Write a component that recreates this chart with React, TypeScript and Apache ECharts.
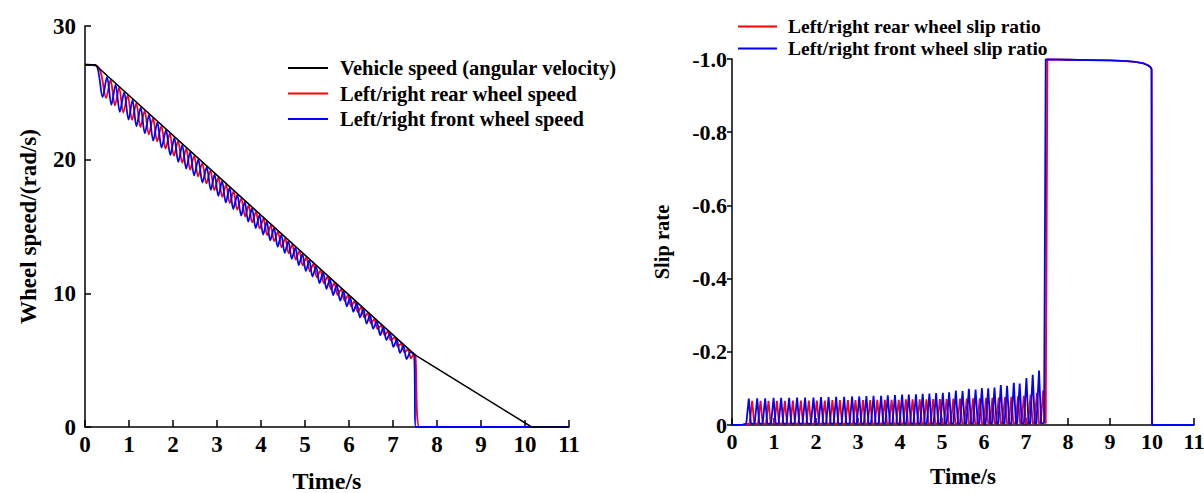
import React, { useEffect, useRef } from "react";
import * as echarts from "echarts";

// ---- Left chart: wheel speeds (rad/s) ----
const vehicleTime = [0, 0.23, 7.5, 10.15, 11];
const vehicleSpeed = [27.1, 27.1, 5.4, 0, 0];

const frontTimes = [0.40, 0.60, 0.79, 0.99, 1.17, 1.36, 1.55, 1.74, 1.94, 2.12, 2.30, 2.48, 2.67, 2.86, 3.03, 3.20, 3.37, 3.55, 3.71, 3.88, 4.05, 4.21, 4.38, 4.54, 4.70, 4.86, 5.02, 5.17, 5.33, 5.49, 5.64, 5.80, 5.95, 6.10, 6.25, 6.40, 6.55, 6.71, 6.85, 7.01, 7.16, 7.31];
const frontSpeedDip = [24.68, 24.10, 23.57, 22.99, 22.50, 21.97, 21.42, 20.90, 20.35, 19.83, 19.33, 18.82, 18.29, 17.75, 17.29, 16.80, 16.31, 15.81, 15.37, 14.88, 14.40, 13.96, 13.48, 13.03, 12.58, 12.12, 11.67, 11.26, 10.76, 10.34, 9.87, 9.46, 9.02, 8.62, 8.20, 7.74, 7.36, 6.87, 6.51, 5.99, 5.54, 5.08];
const frontSpeedTop = [26.20, 25.62, 25.03, 24.47, 23.91, 23.35, 22.78, 22.20, 21.63, 21.09, 20.56, 20.00, 19.44, 18.90, 18.39, 17.88, 17.36, 16.85, 16.36, 15.85, 15.36, 14.87, 14.38, 13.90, 13.42, 12.94, 12.48, 12.02, 11.54, 11.08, 10.62, 10.15, 9.70, 9.26, 8.81, 8.36, 7.90, 7.45, 7.00, 6.54, 6.09];
const frontSpeedHead = [[0, 27.1], [0.25, 27.05]];
const frontSpeedTail = [[7.40, 5.60], [7.48, 5.42], [7.52, 0], [11, 0]];

const rearTimes = [0.48, 0.68, 0.87, 1.07, 1.26, 1.45, 1.64, 1.83, 2.02, 2.21, 2.39, 2.57, 2.76, 2.94, 3.12, 3.29, 3.46, 3.64, 3.80, 3.97, 4.14, 4.30, 4.47, 4.63, 4.79, 4.95, 5.11, 5.27, 5.43, 5.59, 5.74, 5.90, 6.05, 6.20, 6.35, 6.50, 6.65, 6.81, 6.95, 7.11, 7.26, 7.41];
const rearSpeedDip = [24.62, 24.06, 23.53, 22.98, 22.44, 21.89, 21.37, 20.83, 20.30, 19.77, 19.25, 18.75, 18.22, 17.72, 17.22, 16.75, 16.26, 15.75, 15.31, 14.84, 14.35, 13.90, 13.44, 12.99, 12.53, 12.09, 11.65, 11.19, 10.75, 10.30, 9.88, 9.44, 9.01, 8.59, 8.18, 7.75, 7.33, 6.88, 6.48, 6.02, 5.58, 5.13];
const rearSpeedTop = [25.96, 25.38, 24.79, 24.21, 23.65, 23.08, 22.51, 21.94, 21.38, 20.82, 20.29, 19.73, 19.18, 18.65, 18.12, 17.62, 17.09, 16.59, 16.09, 15.59, 15.09, 14.60, 14.11, 13.63, 13.15, 12.68, 12.20, 11.72, 11.24, 10.78, 10.32, 9.85, 9.41, 8.96, 8.51, 8.06, 7.60, 7.15, 6.70, 6.24, 5.80];
const rearSpeedHead = [[0, 27.1], [0.25, 27.05], [0.36, 26.5]];
const rearSpeedTail = [[7.47, 5.45], [7.51, 5.38], [7.60, 0], [11, 0]];

// ---- Right chart: slip ratio ----
const slipBase = -0.004;
const frontSlipPeak = [-0.072, -0.073, -0.073, -0.074, -0.074, -0.074, -0.075, -0.075, -0.075, -0.076, -0.076, -0.077, -0.077, -0.078, -0.078, -0.079, -0.080, -0.080, -0.081, -0.082, -0.083, -0.083, -0.084, -0.085, -0.086, -0.087, -0.088, -0.089, -0.094, -0.093, -0.099, -0.097, -0.101, -0.100, -0.102, -0.109, -0.107, -0.115, -0.113, -0.128, -0.137, -0.149];
const rearSlipPeak = [-0.066, -0.066, -0.066, -0.066, -0.066, -0.067, -0.067, -0.067, -0.067, -0.067, -0.068, -0.068, -0.068, -0.068, -0.068, -0.068, -0.069, -0.069, -0.069, -0.069, -0.070, -0.070, -0.070, -0.070, -0.071, -0.071, -0.071, -0.072, -0.072, -0.072, -0.073, -0.073, -0.074, -0.074, -0.075, -0.076, -0.077, -0.078, -0.080, -0.083, -0.088, -0.095];
const frontSlipHead = [[0, 0], [0.22, 0]];
const frontSlipTail = [[7.43, -0.006], [7.47, -0.999], [8.0, -0.998], [8.5, -0.997], [9.0, -0.996], [9.4, -0.994], [9.6, -0.992], [9.8, -0.988], [9.9, -0.983], [9.96, -0.978], [9.99, -0.972], [10.0, 0], [11, 0]];
const rearSlipHead = [[0, 0], [0.25, 0]];
const rearSlipTail = [[7.47, -0.006], [7.51, -0.999], [8.0, -0.998], [8.5, -0.997], [9.0, -0.996], [9.4, -0.994], [9.6, -0.992], [9.8, -0.988], [9.9, -0.983], [9.96, -0.978], [9.99, -0.972], [10.0, 0], [11, 0]];

const NAME_VEH = "Vehicle speed (angular velocity)";
const NAME_REAR = "Left/right rear wheel speed";
const NAME_FRONT = "Left/right front wheel speed";
const NAME_REAR_SLIP = "Left/right rear wheel slip ratio";
const NAME_FRONT_SLIP = "Left/right front wheel slip ratio";

function speedLine(times: number[], dips: number[], tops: number[], head: number[][], tail: number[][]) {
  const pts: number[][] = head.map((p) => [p[0], p[1]]);
  times.forEach((t, i) => {
    pts.push([t, dips[i]]);
    if (i < tops.length) pts.push([(t + times[i + 1]) / 2, tops[i]]);
  });
  tail.forEach((p) => pts.push([p[0], p[1]]));
  return pts;
}

function slipLine(times: number[], peaks: number[], head: number[][], tail: number[][]) {
  const pts: number[][] = head.map((p) => [p[0], p[1]]);
  times.forEach((t, i) => {
    pts.push([t - 0.06, slipBase], [t, peaks[i]], [t + 0.05, slipBase]);
  });
  tail.forEach((p) => pts.push([p[0], p[1]]));
  return pts;
}

const FONT = '"Liberation Serif", "Times New Roman", serif';

export default function App() {
  const ref = useRef<HTMLDivElement>(null);
  useEffect(() => {
    if (!ref.current) return;
    const chart = echarts.init(ref.current, undefined, { renderer: "svg" });
    const axisLine = { show: true, onZero: false, lineStyle: { color: "#000", width: 1.5 } };
    const label = (size: number, margin: number, formatter?: any) => ({
      fontFamily: FONT, fontWeight: "bold", fontSize: size, color: "#000", margin, formatter,
    });
    const nameStyle = (size: number) => ({ fontFamily: FONT, fontWeight: "bold", fontSize: size, color: "#000" });
    const line = (name: string, color: string, data: number[][], xi: number, z: number, width = 1.8, smooth: any = false) => ({
      name, type: "line", xAxisIndex: xi, yAxisIndex: xi, data, symbol: "none", showSymbol: false, smooth,
      color, lineStyle: { color, width }, z, silent: true,
    });

    chart.setOption({
      animation: false,
      backgroundColor: "#fff",
      grid: [
        { left: 85, top: 26, width: 484, height: 401, outerBoundsMode: "none", containLabel: false },
        { left: 732, top: 59, width: 462, height: 366, outerBoundsMode: "none", containLabel: false },
      ],
      legend: [
        {
          data: [NAME_VEH, NAME_REAR, NAME_FRONT], orient: "vertical", left: 288, top: 57, padding: 0,
          icon: "rect", itemWidth: 40, itemHeight: 2, itemGap: 3.5,
          textStyle: { fontFamily: FONT, fontWeight: "bold", fontSize: 20.5, color: "#000", lineHeight: 22, padding: [0, 0, 0, 7] },
        },
        {
          data: [NAME_REAR_SLIP, NAME_FRONT_SLIP], orient: "vertical", left: 738, top: 16, padding: 0,
          icon: "rect", itemWidth: 39, itemHeight: 2, itemGap: 1,
          textStyle: { fontFamily: FONT, fontWeight: "bold", fontSize: 19.5, color: "#000", lineHeight: 21, padding: [0, 0, 0, 6] },
        },
      ],
      xAxis: [
        {
          gridIndex: 0, type: "value", min: 0, max: 11, interval: 1,
          name: "Time/s", nameLocation: "middle", nameGap: 42, nameTextStyle: nameStyle(24),
          axisLine, axisTick: { show: true, inside: true, length: 7, lineStyle: { color: "#000", width: 1.5 } },
          axisLabel: label(23, 6), splitLine: { show: false },
        },
        {
          gridIndex: 1, type: "value", min: 0, max: 11, interval: 1,
          name: "Time/s", nameLocation: "middle", nameGap: 40, nameTextStyle: nameStyle(23),
          axisLine, axisTick: { show: true, inside: true, length: 7, lineStyle: { color: "#000", width: 1.5 } },
          axisLabel: label(22, 5), splitLine: { show: false },
        },
      ],
      yAxis: [
        {
          gridIndex: 0, type: "value", min: 0, max: 30, interval: 10,
          name: "Wheel speed/(rad/s)", nameLocation: "middle", nameGap: 45, nameRotate: 90, nameTextStyle: nameStyle(23),
          axisLine, axisTick: { show: true, inside: true, length: 6, lineStyle: { color: "#000", width: 1.5 } },
          axisLabel: label(23, 9), splitLine: { show: false },
        },
        {
          gridIndex: 1, type: "value", min: -1, max: 0, interval: 0.2, inverse: true,
          name: "Slip rate", nameLocation: "middle", nameGap: 60, nameRotate: 90, nameTextStyle: nameStyle(20.5),
          axisLine, axisTick: { show: true, inside: false, length: 5, lineStyle: { color: "#000", width: 1.5 } },
          axisLabel: label(22, 5, (v: number) => (Math.abs(v) < 1e-9 ? "0" : v.toFixed(1))),
          splitLine: { show: false },
        },
      ],
      series: [
        line(NAME_VEH, "#000000", vehicleTime.map((t, i) => [t, vehicleSpeed[i]]), 0, 5, 1.6),
        line(NAME_REAR, "#ff0000", speedLine(rearTimes, rearSpeedDip, rearSpeedTop, rearSpeedHead, rearSpeedTail), 0, 3, 1.8, 0.3),
        line(NAME_FRONT, "#0000ff", speedLine(frontTimes, frontSpeedDip, frontSpeedTop, frontSpeedHead, frontSpeedTail), 0, 4, 1.8, 0.3),
        line(NAME_REAR_SLIP, "#ff0000", slipLine(rearTimes, rearSlipPeak, rearSlipHead, rearSlipTail), 1, 3, 1.8),
        line(NAME_FRONT_SLIP, "#0000ff", slipLine(frontTimes, frontSlipPeak, frontSlipHead, frontSlipTail), 1, 4, 1.8),
      ],
    });
    return () => chart.dispose();
  }, []);
  return <div ref={ref} style={{ position: "absolute", left: 0, top: 0, width: 1204, height: 493 }} />;
}
